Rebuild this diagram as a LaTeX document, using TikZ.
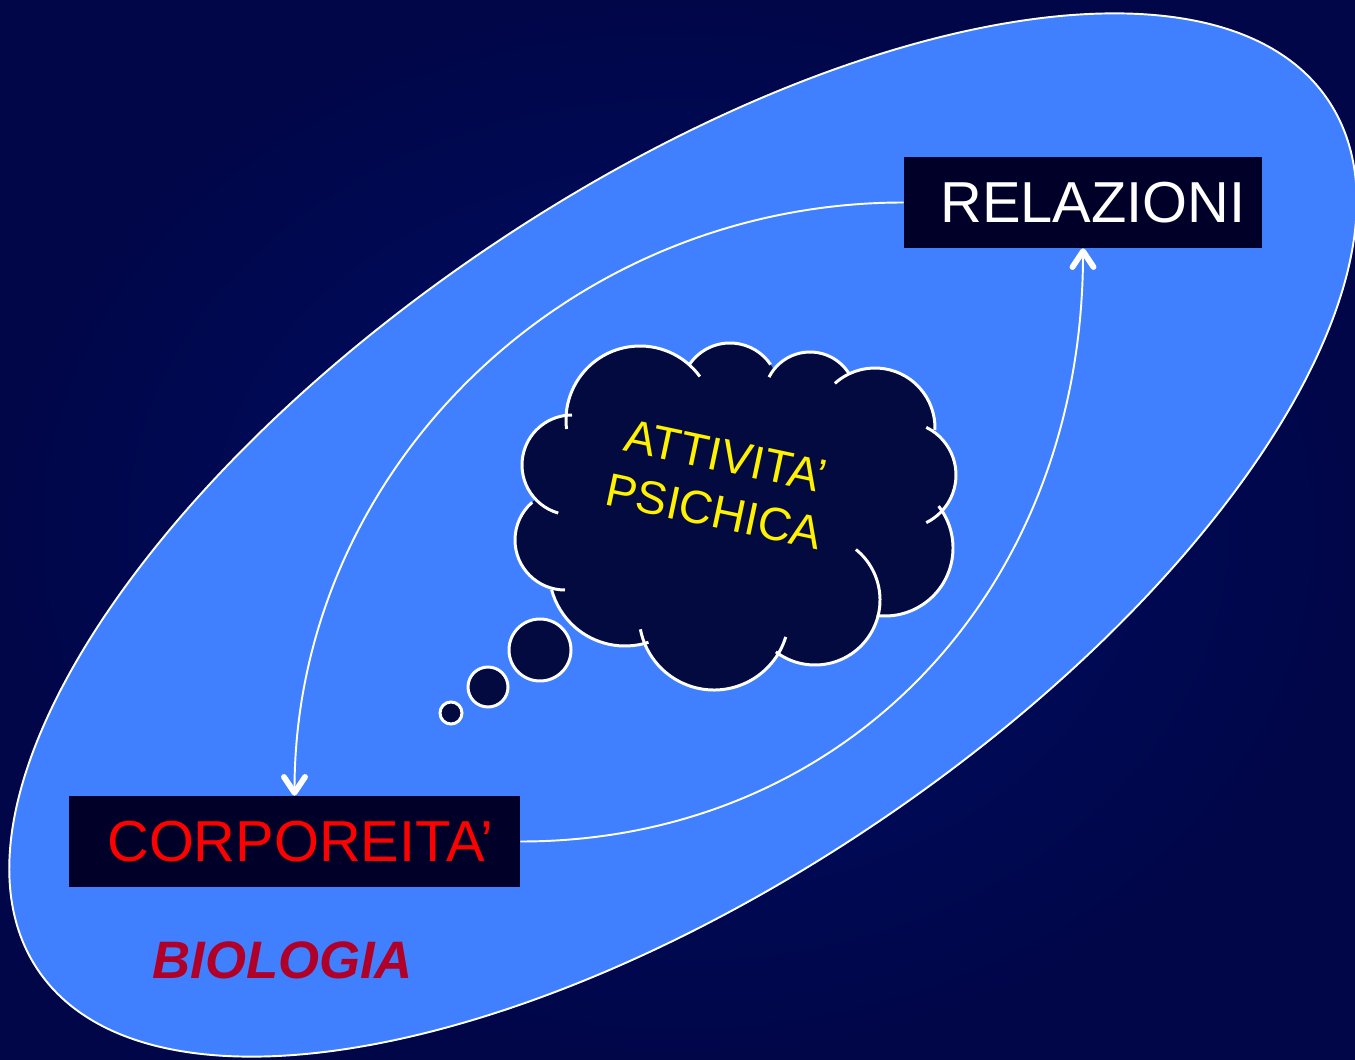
\documentclass[tikz,border=0pt]{standalone}
\usepackage{fontspec}
\setmainfont{Liberation Sans}
\usepackage{xcolor}
\usetikzlibrary{arrows.meta}
\definecolor{bgout}{RGB}{0,6,72}
\definecolor{bgin}{RGB}{0,14,104}
\definecolor{lobe}{RGB}{64,128,255}
\definecolor{boxfill}{RGB}{0,0,40}
\definecolor{mindfill}{RGB}{2,10,64}
\definecolor{biored}{RGB}{176,0,40}

\begin{document}
\begin{tikzpicture}[x=0.02cm, y=-0.02cm,
    labelbox/.style={fill=boxfill, inner sep=0pt, minimum height=1.82cm, font=\fontsize{32.9}{38}\selectfont},
    flow/.style={draw=white, line width=1.1pt, -{Straight Barb[length=9pt, width=12pt, line width=2.2pt 1, round]}},
    puff/.style={draw=white, line width=1.7pt, fill=mindfill}]
    % background and outer ellipse
    \shade[inner color=bgin, outer color=bgout] (0,0) rectangle (1355,1060);
    \useasboundingbox (0,0) rectangle (1355,1060);
    \filldraw[fill=lobe, draw=white, line width=1.1pt, rotate around={34:(683,535)}] (683,535) ellipse [x radius=778, y radius=347];

    % boxes
    \node[labelbox, minimum width=7.16cm, text=white] (rel) at (1083,202.5) {\hspace{0.4cm}RELAZIONI};
    \node[labelbox, minimum width=9.02cm, text=red] (corp) at (294.5,841.5) {\hspace{0.24cm}CORPOREITA’};
    \node[anchor=base west, inner sep=0pt, text=biored, font=\fontsize{30}{34}\selectfont\bfseries\itshape] (bio) at (152,978) {BIOLOGIA};

    % loop between the boxes
    \draw[flow] (rel.west) .. controls +(-336,0) and +(0,-326) .. (corp.north);
    \draw[flow] (corp.east) .. controls +(325,0) and +(0,343) .. (rel.south);

    % thought cloud
    \fill[mindfill] (640,420) -- (730,392) -- (810,398) -- (875,428) -- (903,475) -- (885,548) -- (815,600) -- (714,615) -- (625,570) -- (565,540) -- (572,465) -- cycle;
    \foreach \cx/\cy/\r/\a/\b in {640/420/74/173/324, 730/392/49/215/326, 810/398/46/207/329, 875/428/60/228/362,
        903/475/53/296/424, 885/548/68/322/457, 815/600/65/309/487, 714/615/75/17/169,
        625/570/76/72/165, 565/540/50/90/229, 572/465/50/106/270}
        \fill[mindfill] (\cx,\cy) circle (\r);
    \foreach \cx/\cy/\r/\a/\b in {640/420/74/173/324, 730/392/49/215/326, 810/398/46/207/329, 875/428/60/228/362,
        903/475/53/296/424, 885/548/68/322/457, 815/600/65/309/487, 714/615/75/17/169,
        625/570/76/72/165, 565/540/50/90/229, 572/465/50/106/270}
        \draw[white, line width=1.7pt] (\cx,\cy) ++(\a:\r) arc[start angle=\a, end angle=\b, radius=\r];
    \node[text=yellow, rotate=-12, align=center, inner sep=0pt, font=\fontsize{26.5}{32.3}\selectfont] (psy) at (720,484) {ATTIVITA’\\PSICHICA};
    \filldraw[puff] (540,650) circle (31);
    \filldraw[puff] (488,687) circle (20);
    \filldraw[puff] (451,713) circle (11);
\end{tikzpicture}
\end{document}
